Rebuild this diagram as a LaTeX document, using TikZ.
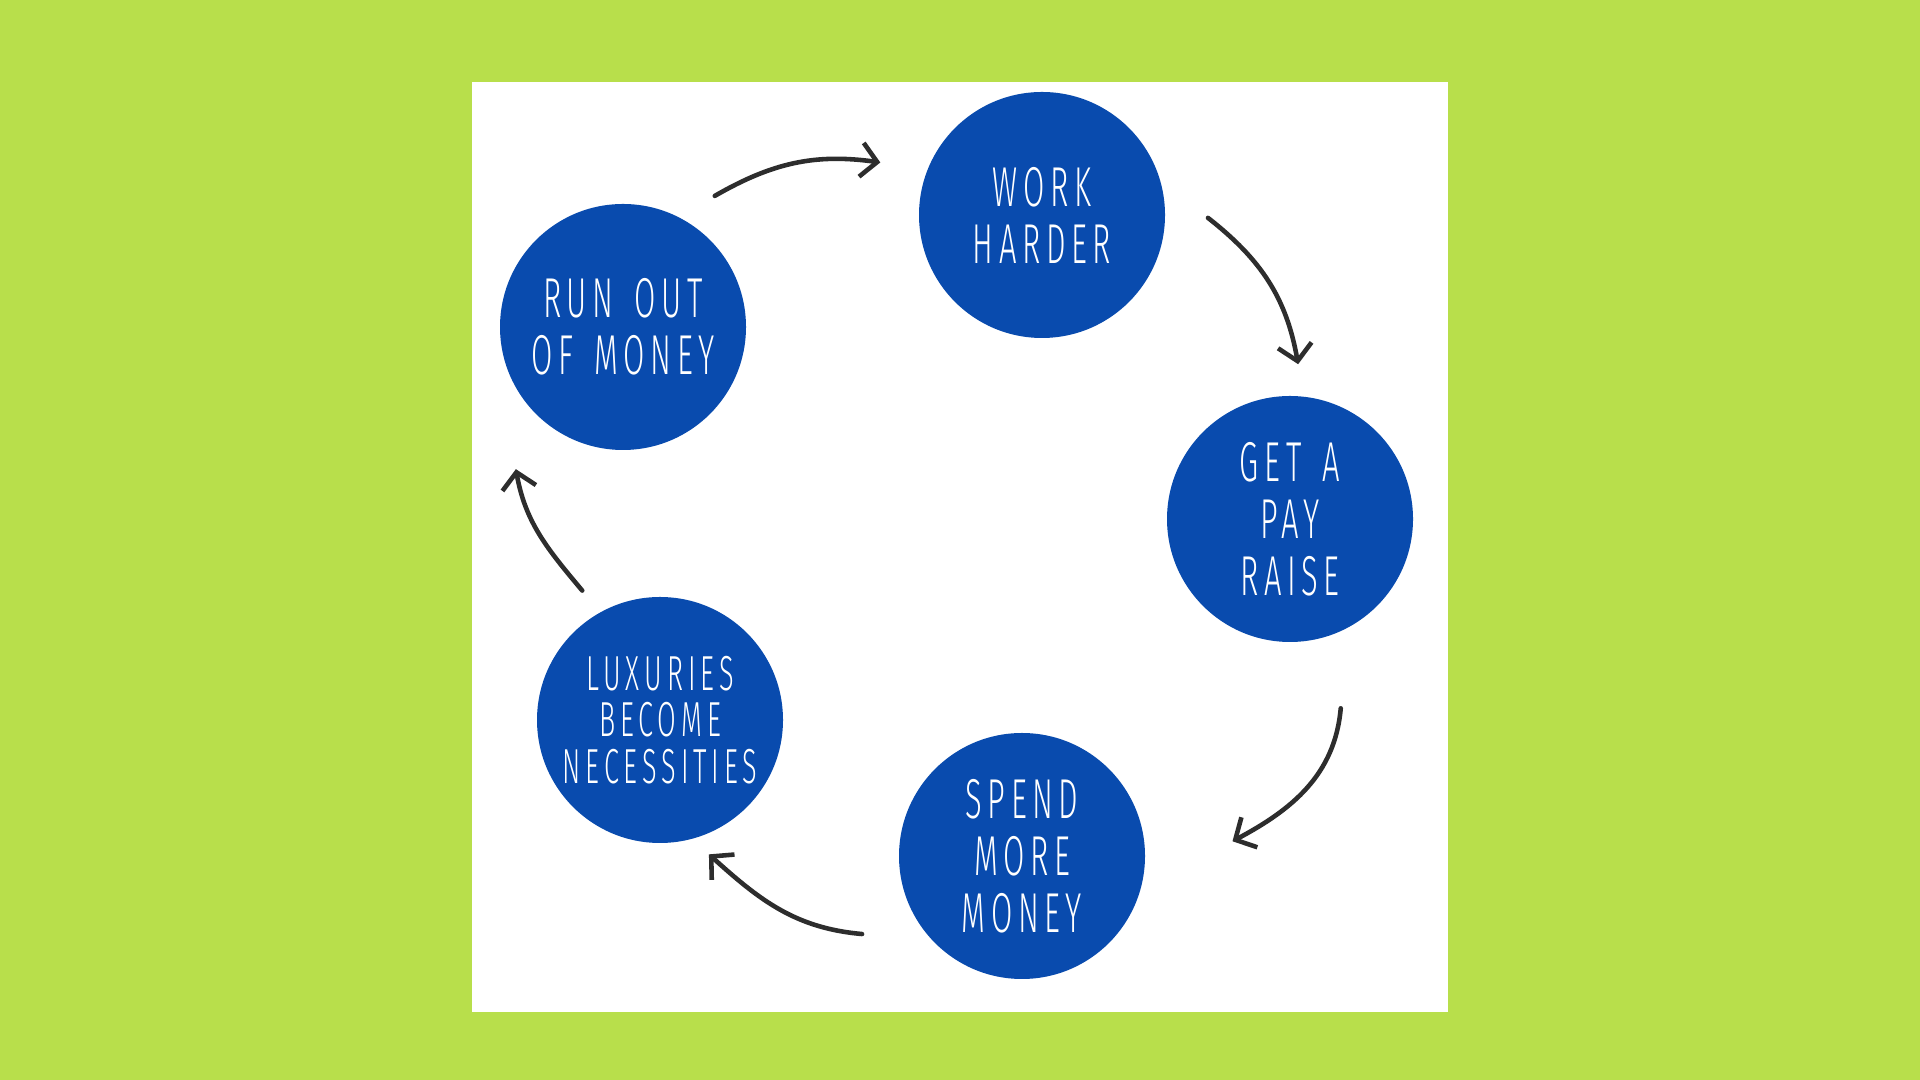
\documentclass[tikz,border=0pt]{standalone}
\usepackage{fontspec}
\newfontfamily\handfont{Fira Sans Light}[FakeStretch=0.55,LetterSpace=10,WordSpace=1.5]
\usetikzlibrary{arrows.meta,calc}

\definecolor{limebg}{RGB}{184,223,75}
\definecolor{blobblue}{RGB}{9,75,174}
\definecolor{arrowgrey}{RGB}{45,45,45}

\begin{document}
\begin{tikzpicture}[line cap=round,line join=round,
    blob/.style={circle,fill=blobblue,minimum size=2.46cm,inner sep=0pt,
        text=white,align=center,font=\handfont\fontsize{16}{16.2}\selectfont},
    flow/.style={draw=arrowgrey,line width=1.3pt,
        -{Straight Barb[length=1.6mm,width=3.4mm]}}]

    % background and card
    \fill[limebg] (0,0) rectangle (19.2,10.8);
    \fill[white] (4.72,0.68) rectangle (14.48,9.98);

    % circles
    \node[blob] (wh) at (10.42,8.65) {WORK\\HARDER};
    \node[blob] (pr) at (12.90,5.61) {GET A\\PAY\\RAISE};
    \node[blob] (sm) at (10.22,2.24) {SPEND\\MORE\\MONEY};
    \node[blob,font=\handfont\fontsize{14}{13.2}\selectfont] (lb) at (6.60,3.60) {LUXURIES\\BECOME\\NECESSITIES};
    \node[blob] (rm) at (6.23,7.53) {RUN OUT\\OF MONEY};

    % arrows
    \draw[flow] ($(rm)+(55:1.60)$) to[out=30,in=172] ($(wh)+(162:1.70)$);
    \draw[flow] ($(wh)+(-1:1.66)$) to[out=-38,in=100] ($(pr)+(87:1.55)$);
    \draw[flow] ($(pr)+(-75:1.96)$) to[out=-95,in=28] ($(sm)+(4:2.11)$);
    \draw[flow] ($(sm)+(206:1.78)$) to[out=175,in=-42] ($(lb)+(-70:1.43)$);
    \draw[flow] ($(lb)+(121:1.51)$) to[out=130,in=-80] ($(rm)+(233:1.78)$);

\end{tikzpicture}
\end{document}
